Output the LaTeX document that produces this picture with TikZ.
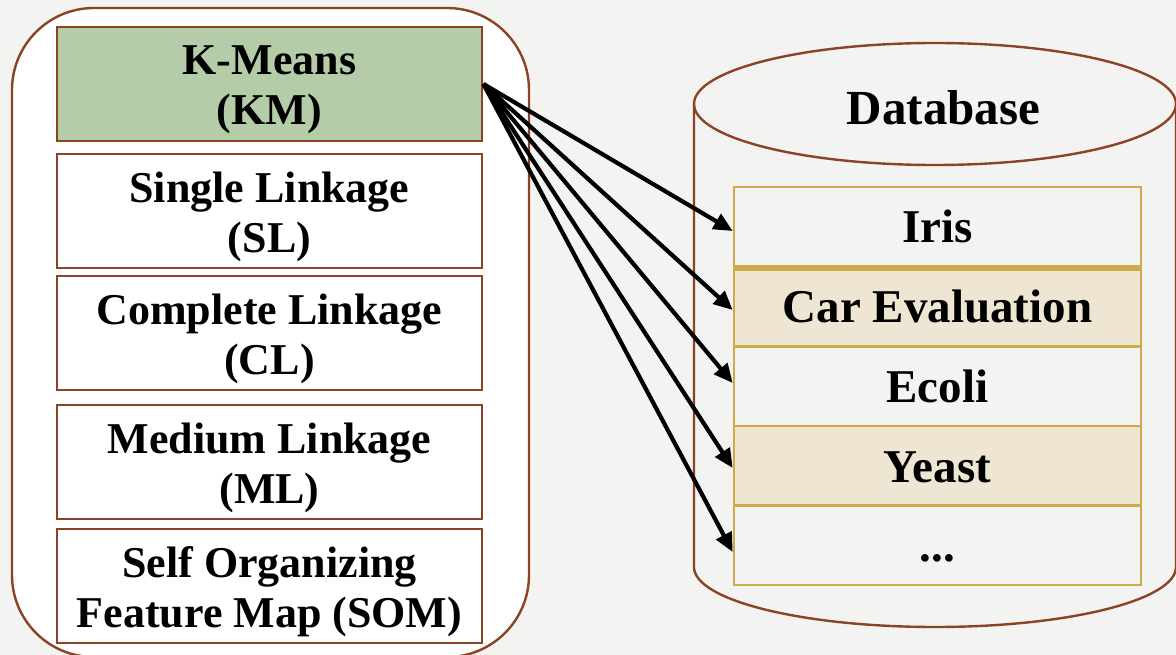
\documentclass[tikz,border=0pt]{standalone}
\usepackage{fontspec}
\setmainfont{Liberation Serif}
\usetikzlibrary{arrows.meta}

\definecolor{bgcol}{HTML}{F3F3F1}
\definecolor{brownline}{HTML}{8A4424}
\definecolor{kmgreen}{HTML}{B5CCA9}
\definecolor{goldline}{HTML}{CFAA48}
\definecolor{beige}{HTML}{EEE6D2}

\begin{document}
\begin{tikzpicture}[x=1pt,y=-1pt,
  container/.style={draw=brownline, line width=2.4pt, fill=white, rounded corners=82pt},
  method/.style={draw=brownline, line width=2.8pt, fill=white,
    minimum width=425pt, minimum height=114pt, inner sep=0pt},
  methodtext/.style={align=center, inner sep=0pt, yshift=-6pt,
    font=\bfseries\fontsize{44}{50}\selectfont},
  dataset/.style={draw=goldline, line width=2.6pt,
    minimum width=407pt, minimum height=80pt, inner sep=0pt,
    text height=32pt, text depth=0pt,
    font=\bfseries\fontsize{47}{52}\selectfont},
  cyl/.style={draw=brownline, line width=2.4pt},
  link/.style={draw=black, line width=4.2pt,
    -{Triangle[length=19pt,width=17pt]}}
]
% canvas and background
\useasboundingbox (0,0) rectangle (1176,655);
\fill[bgcol] (0,0) rectangle (1176,655);

% rounded container holding the clustering methods
\path[container] (12,8) rectangle (529,657);

% clustering methods
\node[method, fill=kmgreen] (km) at (269.5,84) {};
\node[method] (sl) at (269.5,211) {};
\node[method] (cl) at (269.5,333) {};
\node[method] (ml) at (269.5,462) {};
\node[method] (som) at (269.5,586) {};

\node[methodtext] (kmtext) at (km.center) {K-Means\\(KM)};
\node[methodtext] (sltext) at (sl.center) {Single Linkage\\(SL)};
\node[methodtext] (cltext) at (cl.center) {Complete Linkage\\(CL)};
\node[methodtext] (mltext) at (ml.center) {Medium Linkage\\(ML)};
\node[methodtext] (somtext) at (som.center) {Self Organizing\\Feature Map (SOM)};

% database cylinder
\draw[cyl] (935,104) ellipse [x radius=241, y radius=61];
\draw[cyl] (694,104) -- (694,567)
  arc [start angle=180, end angle=0, x radius=241, y radius=60]
  -- (1176,104);
\node[inner sep=0pt, anchor=base, font=\bfseries\fontsize{49}{54}\selectfont]
  (dbtitle) at (943.5,125) {Database};

% datasets
\node[dataset] (iris) at (937.5,227) {Iris};
\node[dataset, fill=beige] (car) at (937.5,306.5) {Car Evaluation};
\node[dataset] (ecoli) at (937.5,386) {Ecoli};
\node[dataset, fill=beige] (yeast) at (937.5,466) {Yeast};
\node[dataset] (more) at (937.5,545) {...};
\draw[goldline, line width=4.5pt] (iris.south west) -- (iris.south east);

% K-Means applied to every dataset
\draw[link] (km.east) -- ([yshift=-4pt]iris.west);
\draw[link] (km.east) -- ([yshift=-3.5pt]car.west);
\draw[link] (km.east) -- ([yshift=3pt]ecoli.west);
\draw[link] (km.east) -- ([yshift=-2pt]yeast.west);
\draw[link] (km.east) -- ([yshift=-7pt]more.west);
\end{tikzpicture}
\end{document}
